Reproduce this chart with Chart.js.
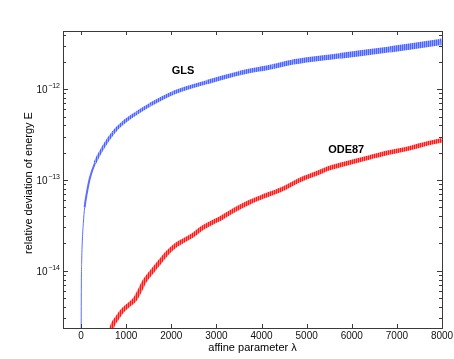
<!DOCTYPE html>
<html>
<head>
<meta charset="utf-8">
<script src="https://cdn.jsdelivr.net/npm/chart.js@4.4.1/dist/chart.umd.min.js"></script>
<style>
  html, body { margin: 0; padding: 0; background: #ffffff; }
  #wrap { width: 454px; height: 359px; }
</style>
</head>
<body>
<div id="wrap"><canvas id="c" width="454" height="359"></canvas></div>
<script>
// ---- data ----
const lambdaGLS = [0, 5, 15, 30, 50, 80, 126, 200, 310, 490, 710, 930, 1240, 1530, 2040, 2790, 3520, 4250, 4700, 5740, 6850, 7960, 8000];
const devGLS    = [3.2e-16, 5.0e-15, 1.32e-14, 2.24e-14, 3.31e-14, 5.0e-14, 7.08e-14, 1.07e-13, 1.55e-13, 2.29e-13, 3.31e-13, 4.27e-13, 5.5e-13, 6.76e-13, 9.12e-13, 1.20e-12, 1.51e-12, 1.78e-12, 2.0e-12, 2.34e-12, 2.75e-12, 3.31e-12, 3.33e-12];

const lambdaODE = [620, 700, 800, 900, 1000, 1100, 1200, 1300, 1400, 1600, 1800, 1900, 2100, 2300, 2500, 2650, 2900, 3100, 3400, 3750, 4100, 4500, 4850, 5250, 5500, 6000, 6400, 6800, 7200, 7500, 8000];
const devODE    = [1.78e-15, 2.51e-15, 3.02e-15, 3.55e-15, 3.98e-15, 4.37e-15, 4.9e-15, 6.03e-15, 7.59e-15, 1.02e-14, 1.35e-14, 1.55e-14, 1.91e-14, 2.19e-14, 2.51e-14, 2.88e-14, 3.39e-14, 3.8e-14, 4.68e-14, 5.75e-14, 6.76e-14, 8.13e-14, 1.0e-13, 1.2e-13, 1.35e-13, 1.58e-13, 1.78e-13, 2.0e-13, 2.19e-13, 2.4e-13, 2.75e-13];

const xTicks = [0, 1000, 2000, 3000, 4000, 5000, 6000, 7000, 8000];
const xTickLabels = ['0', '1000', '2000', '3000', '4000', '5000', '6000', '7000', '8000'];
const yTicks = [1e-14, 1e-13, 1e-12];
const yTickExponents = ['\u221214', '\u221213', '\u221212'];
const xRange = [-400, 8000];
const yRange = [2.34e-15, 4.39e-12];

const seriesNames = ['GLS', 'ODE87'];
const labelLambda = [2262, 5876];
const labelDev = [1.58e-12, 2.14e-13];

const xTitle = 'affine parameter \u03bb';
const yTitle = 'relative deviation of energy E';

// ---- styling ----
const FONT = '"Liberation Sans", Arial, Helvetica, sans-serif';
function stripes(c1, c2) {
  const cv = document.createElement('canvas');
  cv.width = 2; cv.height = 1;
  const g = cv.getContext('2d');
  g.fillStyle = c1; g.fillRect(0, 0, 1, 1);
  g.fillStyle = c2; g.fillRect(1, 0, 1, 1);
  return g.createPattern(cv, 'repeat');
}
const bluePat = stripes('rgb(75,100,255)', 'rgb(150,165,255)');
const redPat = stripes('rgb(255,25,25)', 'rgb(255,120,120)');

const axesPlugin = {
  id: 'matlabAxes',
  afterDatasetsDraw(chart) {
    const {ctx, chartArea: a, scales: {x, y}} = chart;
    ctx.save();
    ctx.strokeStyle = '#3a3a3a';
    ctx.lineWidth = 1;
    ctx.strokeRect(Math.round(a.left) + 0.5, Math.round(a.top) + 0.5,
                   Math.round(a.right - a.left), Math.round(a.bottom - a.top));
    ctx.beginPath();
    xTicks.forEach(v => {
      const px = Math.round(x.getPixelForValue(v)) + 0.5;
      ctx.moveTo(px, a.bottom); ctx.lineTo(px, a.bottom - 4);
      ctx.moveTo(px, a.top); ctx.lineTo(px, a.top + 4);
    });
    const e0 = Math.floor(Math.log10(yRange[0])), e1 = Math.ceil(Math.log10(yRange[1]));
    for (let e = e0; e <= e1; e++) {
      for (let m = 1; m <= 9; m++) {
        const v = m * Math.pow(10, e);
        if (v < yRange[0] || v > yRange[1]) continue;
        const py = Math.round(y.getPixelForValue(v)) + 0.5;
        const len = m === 1 ? 5 : 3;
        ctx.moveTo(a.left, py); ctx.lineTo(a.left + len, py);
        ctx.moveTo(a.right, py); ctx.lineTo(a.right - len, py);
      }
    }
    ctx.stroke();

    // x tick labels
    ctx.fillStyle = '#111';
    ctx.font = '10px ' + FONT;
    ctx.textAlign = 'center';
    ctx.textBaseline = 'middle';
    xTicks.forEach((v, i) => {
      ctx.fillText(xTickLabels[i], x.getPixelForValue(v), a.bottom + 8.5);
    });
    // x title
    ctx.fillStyle = '#000';
    ctx.font = '11px ' + FONT;
    ctx.fillText(xTitle, (a.left + a.right) / 2, a.bottom + 19.5);

    // y tick labels with superscript exponents
    ctx.fillStyle = '#111';
    ctx.textAlign = 'right';
    ctx.textBaseline = 'alphabetic';
    yTicks.forEach((v, i) => {
      const py = y.getPixelForValue(v);
      const exp = yTickExponents[i];
      ctx.font = '7px ' + FONT;
      const ew = ctx.measureText(exp).width;
      const xr = a.left - 3;
      ctx.fillText(exp, xr, py - 1);
      ctx.font = '10px ' + FONT;
      ctx.fillText('10', xr - ew - 0.5, py + 4);
    });

    // y title
    ctx.save();
    ctx.translate(29, 183);
    ctx.rotate(-Math.PI / 2);
    ctx.textAlign = 'center';
    ctx.textBaseline = 'middle';
    ctx.font = '11px ' + FONT;
    ctx.fillStyle = '#000';
    ctx.fillText(yTitle, 0, 0);
    ctx.restore();

    // series labels
    ctx.font = 'bold 11px ' + FONT;
    ctx.fillStyle = '#000';
    ctx.textAlign = 'center';
    ctx.textBaseline = 'middle';
    seriesNames.forEach((n, i) => {
      ctx.fillText(n, x.getPixelForValue(labelLambda[i]), y.getPixelForValue(labelDev[i]));
    });
    ctx.restore();
  }
};

new Chart(document.getElementById('c'), {
  type: 'line',
  data: {
    datasets: [
      {
        label: seriesNames[0],
        data: lambdaGLS.map((l, i) => ({x: l, y: devGLS[i]})),
        borderColor: bluePat,
        borderWidth: 5,
        pointRadius: 0,
        cubicInterpolationMode: 'monotone',
        clip: 0,
        segment: {
          borderWidth: c => {
            const l = c.p0.parsed.x;
            return l < 60 ? 1 : (l < 300 ? 2 : 3 + l / 2000);
          },
          borderColor: c => c.p0.parsed.x < 300 ? 'rgb(90,110,255)' : bluePat
        }
      },
      {
        label: seriesNames[1],
        data: lambdaODE.map((l, i) => ({x: l, y: devODE[i]})),
        borderColor: redPat,
        borderWidth: 4.5,
        pointRadius: 0,
        cubicInterpolationMode: 'monotone',
        clip: 0
      }
    ]
  },
  options: {
    responsive: false,
    animation: false,
    devicePixelRatio: 1,
    layout: { padding: { top: 31, right: 12, left: 0, bottom: 0 } },
    plugins: { legend: { display: false }, tooltip: { enabled: false } },
    scales: {
      x: {
        type: 'linear',
        min: xRange[0], max: xRange[1],
        afterBuildTicks: s => { s.ticks = xTicks.map(v => ({value: v})); },
        afterFit: s => { s.height = 31; },
        grid: { display: false },
        border: { display: false },
        ticks: { display: false }
      },
      y: {
        type: 'logarithmic',
        min: yRange[0], max: yRange[1],
        afterBuildTicks: s => { s.ticks = yTicks.map(v => ({value: v})); },
        afterFit: s => { s.width = 63; },
        grid: { display: false },
        border: { display: false },
        ticks: { display: false }
      }
    }
  },
  plugins: [axesPlugin]
});
</script>
</body>
</html>
